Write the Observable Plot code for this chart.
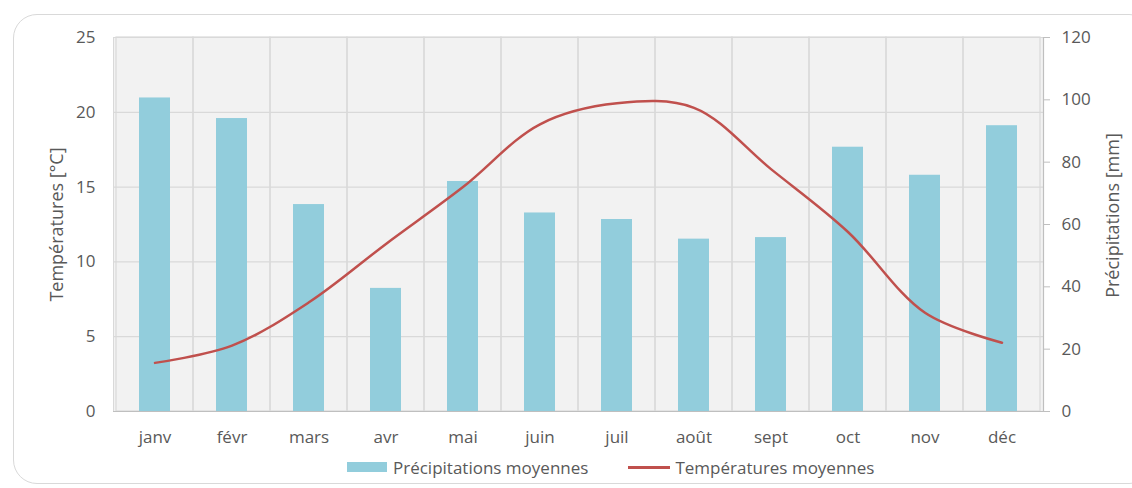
<!DOCTYPE html>
<html>
<head>
<meta charset="utf-8">
<script src="https://cdn.jsdelivr.net/npm/d3@7"></script>
<script src="https://cdn.jsdelivr.net/npm/@observablehq/plot@0.6"></script>
<style>
  html, body { margin: 0; padding: 0; background: #fff; }
  #wrap { position: relative; width: 1132px; height: 488px; overflow: hidden; font-family: "Open Sans", sans-serif; color: #595959; }
  #box { position: absolute; left: 13px; top: 14px; width: 1140px; height: 470px; border: 1.5px solid #d9d9d9; border-radius: 24px; box-sizing: border-box; }
  #chart { position: absolute; left: 0; top: 0; }
  #legend { position: absolute; left: 347px; top: 456px; height: 22px; display: flex; align-items: center; font-size: 17px; white-space: nowrap; }
  .sw-bar { width: 40px; height: 10px; background: #92cddc; margin-right: 6px; }
  .sw-line { width: 42px; height: 3px; background: #c0504d; margin-right: 5px; margin-left: 40px; }
</style>
</head>
<body>
<div id="wrap">
  <div id="box"></div>
  <div id="chart"></div>
  <div id="legend"></div>
</div>
<script>
const months = ["janv","févr","mars","avr","mai","juin","juil","août","sept","oct","nov","déc"];
const precipitation = [100.6, 94, 66.4, 39.5, 73.8, 63.7, 61.6, 55.3, 55.8, 84.8, 75.8, 91.7];
const temperature = [3.25, 4.4, 7.3, 11.2, 15.0, 19.2, 20.6, 20.3, 16.2, 12.0, 6.6, 4.6];
const tempTicks = [0, 5, 10, 15, 20, 25];
const precipTicks = [0, 20, 40, 60, 80, 100, 120];
const seriesNames = ["Précipitations moyennes", "Températures moyennes"];
const axisTitles = ["Températures [°C]", "Précipitations [mm]"];

const k = 25 / 120; // mm -> °C axis position
const data = months.map((m, i) => ({month: m, precip: precipitation[i], temp: temperature[i]}));

const chart = Plot.plot({
  width: 1132,
  height: 450,
  marginTop: 37,
  marginBottom: 39,
  marginLeft: 113,
  marginRight: 89,
  style: {fontFamily: "'Open Sans', sans-serif", fontSize: "17px", color: "#595959", background: "transparent", overflow: "visible"},
  x: {domain: months, padding: 0, label: null},
  y: {domain: [0, 25], label: null},
  marks: [
    Plot.frame({fill: "#f2f2f2", stroke: "#d9d9d9"}),
    Plot.gridY(tempTicks, {stroke: "#d9d9d9", strokeOpacity: 1, strokeWidth: 1.2}),
    Plot.cell(months, {x: d => d, fill: "none", stroke: "#d9d9d9", strokeWidth: 1.2, inset: 0}),
    Plot.barY(data, {x: "month", y: d => d.precip * k, fill: "#92cddc", insetLeft: 23, insetRight: 23}),
    Plot.line(data, {x: "month", y: "temp", curve: "catmull-rom", stroke: "#c0504d", strokeWidth: 2.5}),
    Plot.ruleY([0], {stroke: "#bfbfbf", strokeWidth: 1.2}),
    Plot.frame({anchor: "right", stroke: "#bfbfbf", strokeWidth: 1.2}),
    Plot.axisX({tickSize: 0, tickPadding: 19, label: null}),
    Plot.axisY(tempTicks, {anchor: "left", tickSize: 0, tickPadding: 18, label: null}),
    Plot.axisY(precipTicks.map(v => v * k), {anchor: "right", tickSize: 6, tickPadding: 12, stroke: "#bfbfbf", tickFormat: d => Math.round(d / k), label: null}),
    Plot.text([axisTitles[0]], {frameAnchor: "left", dx: -56, rotate: -90, textAnchor: "middle", fontSize: 18, fill: "#595959"}),
    Plot.text([axisTitles[1]], {frameAnchor: "right", dx: 70, dy: -9, rotate: -90, textAnchor: "middle", fontSize: 18, fill: "#595959"})
  ]
});
document.getElementById("chart").appendChild(chart);

const legend = document.getElementById("legend");
legend.innerHTML =
  `<div class="sw-bar"></div><span>${seriesNames[0]}</span>` +
  `<div class="sw-line"></div><span>${seriesNames[1]}</span>`;
</script>
</body>
</html>
